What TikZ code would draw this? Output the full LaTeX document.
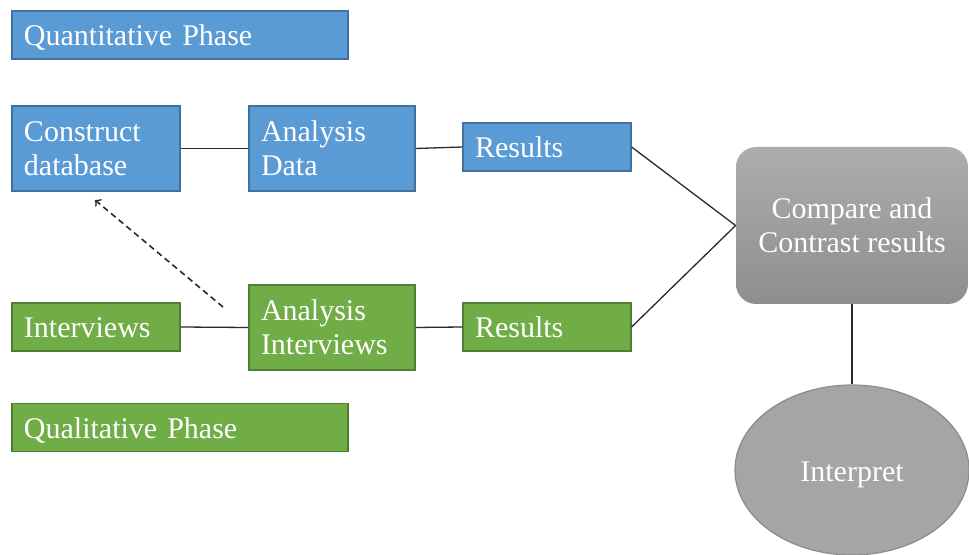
\documentclass[tikz,border=0pt]{standalone}
\usepackage{fontspec}
\setmainfont{Liberation Serif}
\usetikzlibrary{arrows}
\usetikzlibrary{shapes.geometric}

\definecolor{quanfill}{HTML}{5B9BD5}
\definecolor{quanedge}{HTML}{41719C}
\definecolor{qualfill}{HTML}{70AD47}
\definecolor{qualedge}{HTML}{507E32}
\definecolor{greytop}{HTML}{ADADAD}
\definecolor{greybot}{HTML}{8E8E8E}
\definecolor{greyfill}{HTML}{A5A5A5}
\definecolor{greyedge}{HTML}{8C8C8C}
\definecolor{linkcol}{HTML}{2A2A2A}

\tikzset{
    boxfont/.style={font=\fontsize{15}{17}\selectfont, text=white},
    oneline/.style={text height=13.5pt, text depth=2.5pt},
    quan/.style={boxfont, draw=quanedge, fill=quanfill, line width=0.6pt,
        inner xsep=6pt, inner ysep=0pt, align=left},
    qual/.style={quan, draw=qualedge, fill=qualfill},
    phase/.style={oneline, text width=156pt, minimum height=24pt},
    tall/.style={text width=72pt, minimum height=42.5pt},
    short/.style={oneline, text width=72pt, minimum height=24pt},
    link/.style={draw=linkcol, line width=0.65pt}
}

\begin{document}
\begin{tikzpicture}[x=0.5pt,y=-0.5pt]
    \useasboundingbox (0,0) rectangle (969,555);

    % quantitative strand
    \node[quan,phase] (quanphase) at (180,35) {Quantitative Phase};
    \node[quan,tall] (construct) at (96,148.5) {Construct\\database};
    \node[quan,tall,text width=71pt] (andata) at (332,148.5) {Analysis\\Data};
    \node[quan,short] (quanres) at (547,147) {Results};

    % qualitative strand
    \node[qual,short] (interviews) at (96,327) {Interviews};
    \node[qual,tall,text width=71pt] (anint) at (332,327.5) {Analysis\\Interviews};
    \node[qual,short] (qualres) at (547,327) {Results};
    \node[qual,phase] (qualphase) at (180,427.5) {Qualitative Phase};

    % merging
    \node[boxfont, rounded corners=10pt, top color=greytop, bottom color=greybot,
          minimum width=116pt, minimum height=78.5pt, align=center, inner sep=0pt]
          (compare) at (852,225.5) {Compare and\\Contrast results};
    \node[boxfont, oneline, ellipse, draw=greyedge, fill=greyfill, line width=0.6pt,
          minimum width=117pt, minimum height=85pt, inner sep=0pt]
          (interpret) at (852,470) {Interpret};

    \draw[link] (construct.east) -- (andata.west);
    \draw[link] (andata.east) -- (quanres.west);
    \draw[link] (interviews.east) -- (anint.west);
    \draw[link] (anint.east) -- (qualres.west);
    \draw[link] (quanres.east) -- (compare.west);
    \draw[link] (qualres.east) -- (compare.west);
    \draw[link] (compare.south) -- (interpret.north);

    \coordinate (dashfrom) at (223,307);
    \coordinate (dashto) at (95,200);
    \draw[link,->,line width=0.8pt,dash pattern=on 3pt off 2pt] (dashfrom) -- (dashto);
\end{tikzpicture}
\end{document}
